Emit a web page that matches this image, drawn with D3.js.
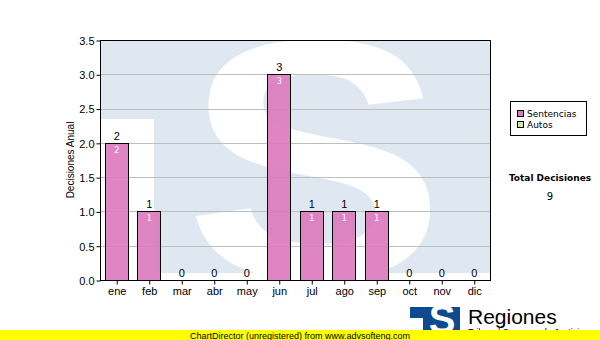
<!DOCTYPE html>
<html>
<head>
<meta charset="utf-8">
<script src="https://cdn.jsdelivr.net/npm/d3@7"></script>
<style>
  body { margin: 0; background: #fff; }
  svg { display: block; }
</style>
</head>
<body>
<div class="chart"></div>
<script>
// Data
var months = ["ene", "feb", "mar", "abr", "may", "jun", "jul", "ago", "sep", "oct", "nov", "dic"];
var sentencias = [2, 1, 0, 0, 0, 3, 1, 1, 1, 0, 0, 0];
var autos = [0, 0, 0, 0, 0, 0, 0, 0, 0, 0, 0, 0];
var seriesNames = ["Sentencias", "Autos"];
var seriesColors = ["#dc78bc", "#d4e8a0"];
var yTicks = [0, 0.5, 1, 1.5, 2, 2.5, 3, 3.5];
var totalDecisiones = 9;

var width = 600, height = 340;
var plotLeft = 100, plotRight = 490, plotTop = 40, plotBottom = 280;

var svg = d3.select(".chart").append("svg")
  .attr("width", width)
  .attr("height", height);

var defs = svg.append("defs");
defs.append("clipPath").attr("id", "plotclip")
  .append("rect").attr("x", plotLeft).attr("y", plotTop)
  .attr("width", plotRight - plotLeft).attr("height", plotBottom - plotTop);
defs.append("clipPath").attr("id", "logoclip")
  .append("rect").attr("x", 410).attr("y", 307).attr("width", 50).attr("height", 26);

// scales
var x = d3.scaleBand().domain(months).range([plotLeft, plotRight]).paddingInner(0.3).paddingOuter(0.15);
var xc = d3.scalePoint().domain(months).range([plotLeft, plotRight]).padding(0.5);
var y = d3.scaleLinear().domain([0, 3.5]).range([plotBottom, plotTop]);

// watermark logo in the plot background
var wm = svg.append("g").attr("clip-path", "url(#plotclip)");
wm.append("rect").attr("x", plotLeft).attr("y", plotTop)
  .attr("width", plotRight - plotLeft).attr("height", 233)
  .attr("fill", "#dfe8f1");
wm.append("rect").attr("x", plotLeft).attr("y", 119)
  .attr("width", 54).attr("height", 160)
  .attr("fill", "#fff");
wm.append("text")
  .attr("transform", "translate(315,277) scale(1.15,1)")
  .attr("text-anchor", "middle")
  .style("font-family", "Liberation Sans, Arial, sans-serif")
  .style("font-weight", "bold")
  .style("font-size", "340px")
  .attr("fill", "#fff")
  .text("S");

// grid lines
svg.append("g").selectAll("line")
  .data(yTicks.slice(1, -1))
  .enter().append("line")
  .attr("x1", plotLeft).attr("x2", plotRight)
  .attr("y1", d => Math.round(y(d)) + 0.5).attr("y2", d => Math.round(y(d)) + 0.5)
  .attr("stroke", "#bdbdbd").attr("stroke-width", 1);

// stacked bars
var stack = d3.stack().keys([0, 1]).value((d, k) => d[k]);
var rows = months.map((m, i) => [sentencias[i], autos[i]]);
var layers = stack(rows);

layers.forEach(function(layer, k) {
  var segs = layer.map((d, i) => ({ d: d, i: i })).filter(s => s.d[1] > s.d[0]);
  svg.append("g").selectAll("rect")
    .data(segs)
    .enter().append("rect")
    .attr("x", s => Math.round(x(months[s.i])) + 0.5)
    .attr("y", s => Math.round(y(s.d[1])) + 0.5)
    .attr("width", Math.round(x.bandwidth()))
    .attr("height", s => Math.round(y(s.d[0])) - Math.round(y(s.d[1])))
    .attr("fill", seriesColors[k])
    .attr("fill-opacity", 0.9)
    .attr("stroke", "#000").attr("stroke-width", 1);

  // inner labels
  svg.append("g").selectAll("text")
    .data(segs)
    .enter().append("text")
    .attr("x", s => xc(months[s.i]) + 0.5)
    .attr("y", s => y(s.d[1]) + 10)
    .attr("text-anchor", "middle")
    .style("font-family", "DejaVu Sans, sans-serif")
    .style("font-size", "8px")
    .attr("fill", "#fff")
    .text(s => s.d[1] - s.d[0]);
});

// totals on top
svg.append("g").selectAll("text")
  .data(months)
  .enter().append("text")
  .attr("x", d => xc(d) + 0.5)
  .attr("y", (d, i) => y(sentencias[i] + autos[i]) - 3)
  .attr("text-anchor", "middle")
  .style("font-family", "Liberation Sans, Arial, sans-serif")
  .style("font-size", "11px")
  .attr("fill", "#000")
  .text((d, i) => sentencias[i] + autos[i]);

// plot frame
svg.append("rect").attr("x", plotLeft + 0.5).attr("y", plotTop + 0.5)
  .attr("width", plotRight - plotLeft).attr("height", plotBottom - plotTop)
  .attr("fill", "none").attr("stroke", "#000");

// axes
var yAxis = d3.axisLeft(y).tickValues(yTicks).tickFormat(d3.format(".1f")).tickSize(4).tickSizeOuter(0);
var gy = svg.append("g").attr("transform", "translate(" + (plotLeft + 0.5) + ",0.5)").call(yAxis);
gy.select(".domain").remove();
gy.selectAll("text").style("font-family", "Liberation Sans, Arial, sans-serif").style("font-size", "11px").attr("fill", "#000").attr("dy", "0.35em").attr("x", -6);
gy.selectAll("line").attr("stroke", "#000");

var xAxis = d3.axisBottom(xc).tickSize(4).tickSizeOuter(0);
var gx = svg.append("g").attr("transform", "translate(0.5," + (plotBottom + 0.5) + ")").call(xAxis);
gx.select(".domain").remove();
gx.selectAll("text").style("font-family", "Liberation Sans, Arial, sans-serif").style("font-size", "11px").attr("fill", "#000").attr("y", 7);
gx.selectAll("line").attr("stroke", "#000");

// y axis title
svg.append("text")
  .attr("transform", "translate(74,160) rotate(-90)")
  .attr("text-anchor", "middle")
  .style("font-family", "Liberation Sans, Arial, sans-serif")
  .style("font-size", "10px")
  .text("Decisiones Anual");

// legend
var legend = svg.append("g");
legend.append("rect").attr("x", 510.5).attr("y", 101.5).attr("width", 76).attr("height", 34)
  .attr("fill", "#fff").attr("stroke", "#000");
seriesNames.forEach(function(name, k) {
  legend.append("rect").attr("x", 517.5).attr("y", 110.5 + k * 11).attr("width", 6).attr("height", 6)
    .attr("fill", seriesColors[k]).attr("stroke", "#000");
  legend.append("text").attr("x", 527).attr("y", 117 + k * 11)
    .style("font-family", "DejaVu Sans, sans-serif")
    .style("font-size", "9px")
    .text(name);
});

// total
svg.append("text").attr("x", 550).attr("y", 181).attr("text-anchor", "middle")
  .style("font-family", "DejaVu Sans, sans-serif").style("font-size", "9px").style("font-weight", "bold")
  .text("Total Decisiones");
svg.append("text").attr("x", 550).attr("y", 200).attr("text-anchor", "middle")
  .style("font-family", "DejaVu Sans, sans-serif").style("font-size", "10px")
  .text(totalDecisiones);

// bottom right logo
var logo = svg.append("g").attr("clip-path", "url(#logoclip)");
logo.append("rect").attr("x", 410).attr("y", 307).attr("width", 50).attr("height", 26).attr("fill", "#0e4a8e");
logo.append("rect").attr("x", 410).attr("y", 318).attr("width", 13).attr("height", 20).attr("fill", "#fff");
logo.append("text").attr("x", 442).attr("y", 333).attr("text-anchor", "middle")
  .style("font-family", "Liberation Sans, Arial, sans-serif").style("font-weight", "bold").style("font-size", "40px")
  .attr("fill", "#fff").text("S");
svg.append("text").attr("x", 468).attr("y", 324)
  .style("font-family", "Liberation Sans, Arial, sans-serif").style("font-size", "21px")
  .text("Regiones");
svg.append("text").attr("x", 468).attr("y", 335)
  .style("font-family", "Liberation Sans, Arial, sans-serif").style("font-size", "9px")
  .text("Tribunal Supremo de Justicia");

// unregistered banner
svg.append("rect").attr("x", 0).attr("y", 330).attr("width", width).attr("height", 10).attr("fill", "#ffff00");
svg.append("text").attr("x", 300).attr("y", 338.5).attr("text-anchor", "middle")
  .style("font-family", "Liberation Sans, Arial, sans-serif").style("font-size", "9px")
  .text("ChartDirector (unregistered) from www.advsofteng.com");
</script>
</body>
</html>
